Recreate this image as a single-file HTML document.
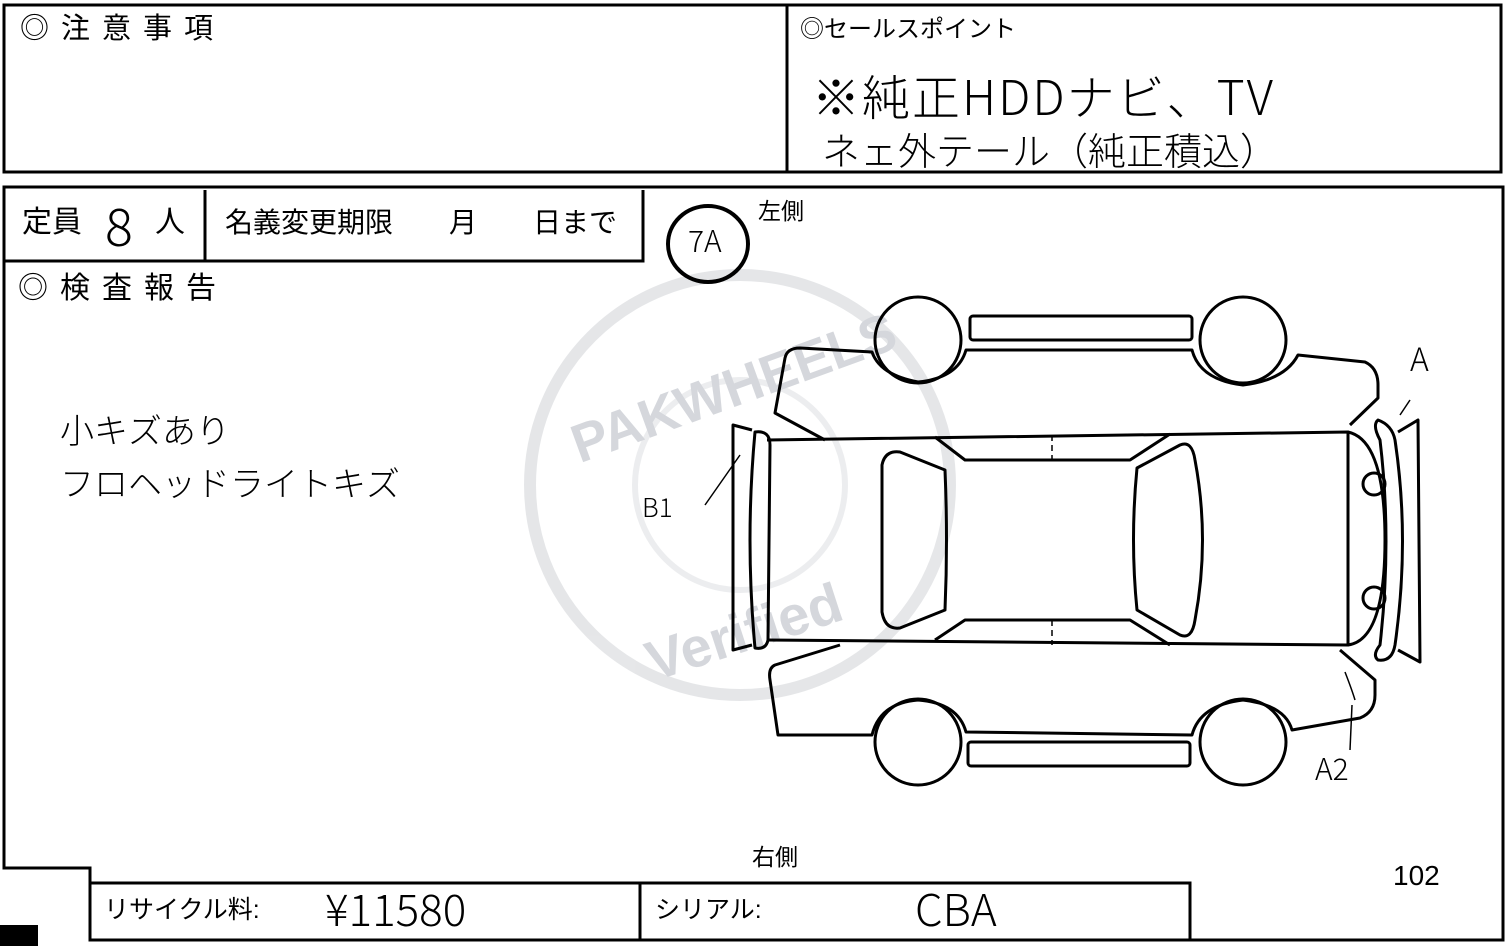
<!DOCTYPE html>
<html><head><meta charset="utf-8"><style>
html,body{margin:0;padding:0;background:#fff;}
body{width:1507px;height:946px;position:relative;overflow:hidden;font-family:"Liberation Sans","Noto Sans CJK JP",sans-serif;color:#000;}
.t{position:absolute;white-space:nowrap;line-height:1;}
.h{font-family:"Noto Sans CJK JP",sans-serif;font-weight:300;}
</style></head><body>
<svg width="1507" height="946" style="position:absolute;left:0;top:0">
<g fill="none" stroke="#000" stroke-width="3">
<rect x="4" y="5" width="1497" height="167"/>
<line x1="787" y1="5" x2="787" y2="172"/>
<path d="M4 187 H1503 V940 H90 V868 H4 Z"/>
<path d="M4 261 H643 V190"/>
<line x1="205" y1="190" x2="205" y2="261"/>
<rect x="90" y="883" width="1100" height="57"/>
<line x1="640" y1="883" x2="640" y2="940"/>
</g>
<rect x="0" y="925" width="38" height="21" fill="#000"/>
<g opacity="0.25">
<circle cx="740" cy="485" r="210" fill="none" stroke="#9aa0a8" stroke-width="12"/>
<circle cx="740" cy="485" r="105" fill="none" stroke="#b8bcc2" stroke-width="6"/>
<text x="740" y="405" text-anchor="middle" font-family="Liberation Sans" font-weight="bold" font-size="54" fill="#5a6478" transform="rotate(-20 740 405)">PAKWHEELS</text>
<text x="750" y="650" text-anchor="middle" font-family="Liberation Sans" font-weight="bold" font-size="56" fill="#5a6478" transform="rotate(-18 750 650)">Verified</text>
</g>
<ellipse cx="708" cy="244" rx="40" ry="38" fill="none" stroke="#000" stroke-width="4"/>
<g fill="none" stroke="#000" stroke-width="3" stroke-linejoin="round">
<path d="M825 440 L775 413 L785 358 Q787 348 800 348 L872 352 Q880 375 918 382 Q958 378 966 350 L1192 350 Q1200 380 1243 385 Q1285 380 1298 355 L1365 362 Q1378 368 1378 385 L1378 398 L1350 425"/>
<circle cx="918" cy="340" r="43"/>
<circle cx="1243" cy="340" r="43"/>
<rect x="970" y="316" width="222" height="24" rx="3"/>
<path d="M840 645 L775 665 Q768 668 770 680 L778 735 L872 735 Q880 703 918 700 Q958 703 966 732 L1192 735 Q1200 705 1243 700 Q1285 705 1292 730 L1360 718 Q1375 712 1375 695 L1375 680 L1340 650"/>
<circle cx="918" cy="742" r="43"/>
<circle cx="1243" cy="742" r="43"/>
<rect x="968" y="742" width="222" height="24" rx="3"/>
<path d="M767 440 L1348 432 L1348 645 L767 640"/>
<path d="M1348 432 Q1385 440 1385 540 Q1385 640 1348 645"/>
<path d="M935 437 L965 460 L1130 460 L1170 434"/>
<path d="M935 640 L965 620 L1130 620 L1170 645"/>
<path d="M882 465 Q885 450 900 452 L945 470 Q948 540 945 610 L900 628 Q885 630 882 612 Z"/>
<path d="M1137 468 L1180 445 Q1192 440 1195 460 Q1210 540 1195 620 Q1192 640 1180 635 L1137 610 Q1130 540 1137 468 Z"/>
<circle cx="1374" cy="484" r="11"/>
<circle cx="1374" cy="598" r="11"/>
<path d="M1378 420 Q1392 425 1395 440 Q1410 540 1395 645 Q1392 662 1378 660 Q1372 655 1380 645 Q1392 540 1380 440 Q1372 425 1378 420 Z"/>
<path d="M1398 432 L1418 420 L1420 662 L1398 650"/>
<path d="M755 432 Q770 430 770 445 L768 640 Q766 650 755 648 Q745 540 755 432 Z"/>
<path d="M752 430 L733 425 L733 650 L752 645"/>
</g>
<g stroke="#000" stroke-width="1.5" stroke-dasharray="6,4">
<line x1="770" y1="440" x2="1348" y2="432"/>
<line x1="770" y1="640" x2="1348" y2="645"/>
<line x1="1052" y1="435" x2="1052" y2="460"/>
<line x1="1052" y1="620" x2="1052" y2="645"/>
</g>
<g stroke="#000" stroke-width="1.5" fill="none">
<path d="M705 505 L740 455"/>
<path d="M1400 415 L1410 400"/>
<path d="M1345 672 Q1352 690 1355 700"/>
<path d="M1352 705 L1350 750"/>
</g>
</svg>

<div class="t" style="left:20px;top:15px;font-size:29px;letter-spacing:12px">◎注意事項</div>
<div class="t" style="left:800px;top:18px;font-size:24px;">◎セールスポイント</div>
<div class="t h" style="left:812px;top:70px;font-size:48px;letter-spacing:2px">※純正HDDナビ、TV</div>
<div class="t h" style="left:822px;top:130px;font-size:38px;">ネェ外テール（純正積込）</div>

<div class="t" style="left:22px;top:208px;font-size:30px;">定員</div>
<div class="t h" style="left:105px;top:198px;font-size:52px;">8</div>
<div class="t" style="left:155px;top:208px;font-size:30px;">人</div>
<div class="t" style="left:225px;top:209px;font-size:28px;">名義変更期限　　月　　日まで</div>
<div class="t h" style="left:688px;top:224px;font-size:30px;">7A</div>
<div class="t" style="left:758px;top:200px;font-size:23px;">左側</div>
<div class="t" style="left:18px;top:274px;font-size:30px;letter-spacing:12px">◎検査報告</div>

<div class="t h" style="left:60px;top:412px;font-size:34px;">小キズあり</div>
<div class="t h" style="left:60px;top:465px;font-size:34px;">フロヘッドライトキズ</div>

<div class="t h" style="left:642px;top:494px;font-size:26px;">B1</div>
<div class="t h" style="left:1410px;top:342px;font-size:32px;">A</div>
<div class="t h" style="left:1315px;top:752px;font-size:30px;">A2</div>

<div class="t" style="left:752px;top:846px;font-size:23px;">右側</div>
<div class="t" style="left:1393px;top:862px;font-size:28px;">102</div>
<div class="t" style="left:104px;top:898px;font-size:25px;">リサイクル料:</div>
<div class="t h" style="left:325px;top:885px;font-size:44px;">¥11580</div>
<div class="t" style="left:655px;top:898px;font-size:25px;">シリアル:</div>
<div class="t h" style="left:915px;top:885px;font-size:44px;">CBA</div>
</body></html>
